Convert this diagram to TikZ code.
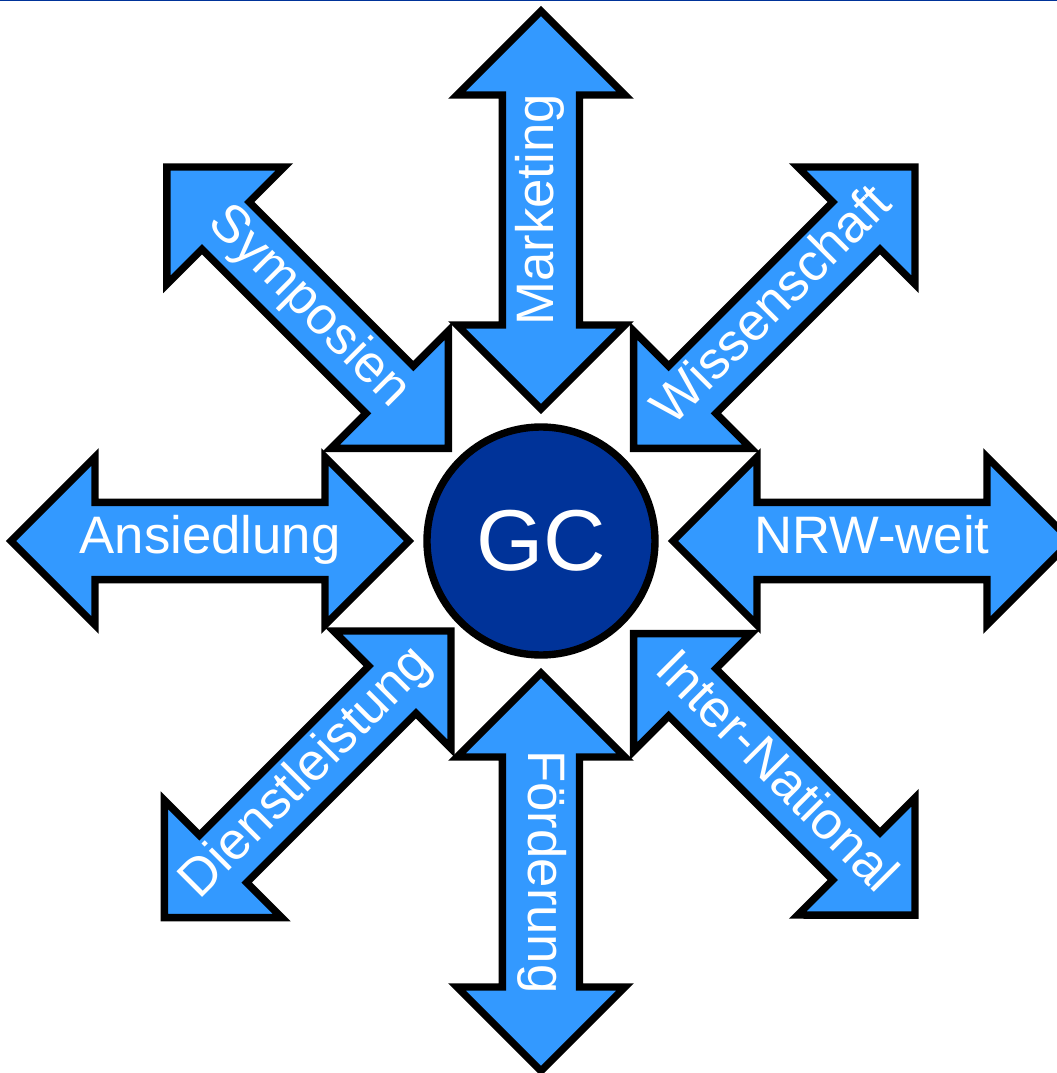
\documentclass[tikz,border=0pt]{standalone}
\usepackage{fontspec}
\setmainfont{Liberation Sans}
\usepackage{tikz}
\usetikzlibrary{shapes.arrows}
\definecolor{arrowblue}{RGB}{51,153,255}
\definecolor{gcblue}{RGB}{0,51,153}

\begin{document}
\begin{tikzpicture}[arr/.style={double arrow, double arrow tip angle=90, draw=black, fill=arrowblue, line width=2.1pt, text=white, font=\fontsize{15}{15}\selectfont, minimum height=3.98cm, inner xsep=0pt, text height=0.72em, text depth=0pt},
  straight/.style={arr, inner ysep=0.21cm, minimum width=1.68cm, double arrow head extend=0.44cm},
  diag/.style={arr, inner ysep=0.16cm, minimum width=1.66cm, double arrow head extend=0.48cm},
  hub/.style={circle, draw=black, fill=gcblue, line width=2.1pt, minimum size=2.28cm, text=white, font=\fontsize{24.6}{24.6}\selectfont}]
\useasboundingbox (-5.41,-5.32) rectangle (5.16,5.41);
\draw[gcblue, line width=0.4pt] (-5.41,5.403) -- (5.16,5.403);
\node[hub] (gc) at (0,0) {GC};
\foreach \ang/\nm/\txt/\rot in {0/nrw/NRW-weit/0, 90/mkt/Marketing/90, 180/ansied/Ansiedlung/0, 270/foerd/Förderung/-90}
  \node[straight, rotate=\rot] (\nm) at (\ang:3.31) {\txt};
\foreach \ang/\nm/\txt/\rot in {45/wiss/Wissenschaft/45, 135/symp/Symposien/-45, 225/dienst/Dienstleistung/45, 315/intl/Inter-National/-45}
  \node[diag, rotate=\rot] (\nm) at (\ang:3.30) {\txt};
\end{tikzpicture}
\end{document}
